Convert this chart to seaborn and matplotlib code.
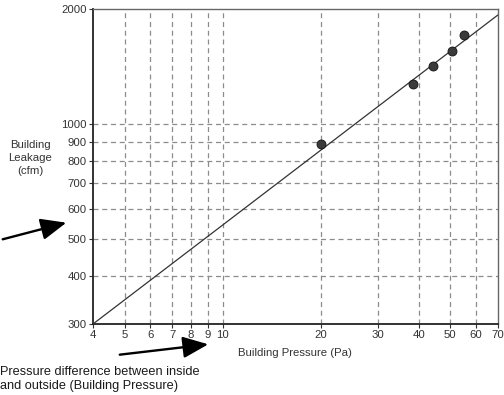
import matplotlib
matplotlib.use("Agg")
import matplotlib.pyplot as plt
from matplotlib.patches import FancyArrowPatch
from matplotlib.ticker import FixedLocator, FixedFormatter, NullLocator
import seaborn as sns
import pandas as pd

# Measured building leakage at several test pressures
pressure_pa = [20, 38.3, 44.3, 50.5, 55.2]
leakage_cfm = [887, 1273, 1416, 1556, 1713]

# Fitted power-law leakage line (endpoints on the log-log axes)
fit_pressure = [4, 70]
fit_leakage = [300, 1930]

x_ticks = [4, 5, 6, 7, 8, 9, 10, 20, 30, 40, 50, 60, 70]
y_ticks = [300, 400, 500, 600, 700, 800, 900, 1000, 2000]

sns.set_style("white")
plt.rcParams["font.family"] = ["Liberation Sans", "DejaVu Sans"]

fig = plt.figure(figsize=(5.04, 3.95), dpi=100)
ax = fig.add_axes([93 / 504, 1 - 324 / 395, 405 / 504, 315 / 395])

ax.set_xscale("log")
ax.set_yscale("log")
ax.set_xlim(4, 70)
ax.set_ylim(300, 2000)

pts = pd.DataFrame({"p": pressure_pa, "q": leakage_cfm})
fit = pd.DataFrame({"p": fit_pressure, "q": fit_leakage})

sns.lineplot(data=fit, x="p", y="q", ax=ax, color="#333333", linewidth=0.9, zorder=3)
sns.scatterplot(data=pts, x="p", y="q", ax=ax, s=42, color="#3a3a3a",
                edgecolor="#111111", linewidth=0.6, zorder=4)

ax.xaxis.set_major_locator(FixedLocator(x_ticks))
ax.xaxis.set_major_formatter(FixedFormatter([str(v) for v in x_ticks]))
ax.xaxis.set_minor_locator(NullLocator())
ax.yaxis.set_major_locator(FixedLocator(y_ticks))
ax.yaxis.set_major_formatter(FixedFormatter([str(v) for v in y_ticks]))
ax.yaxis.set_minor_locator(NullLocator())

# Dashed grid at inner ticks
for v in x_ticks[1:-1]:
    ax.axvline(v, color="#8c8c8c", linestyle=(0, (4, 3)), linewidth=0.9, zorder=1)
for v in y_ticks[1:-1]:
    ax.axhline(v, color="#8c8c8c", linestyle=(0, (4, 3)), linewidth=0.9, zorder=1)

ax.tick_params(axis="both", which="major", direction="out", length=3, width=0.8,
               color="#333333", labelsize=8.2, labelcolor="#333333", pad=1.5,
               left=True, bottom=True)

for side in ("left", "bottom"):
    ax.spines[side].set_color("#222222")
    ax.spines[side].set_linewidth(1.3)
for side in ("top", "right"):
    ax.spines[side].set_color("#666666")
    ax.spines[side].set_linewidth(1.0)

ax.set_xlabel("")
ax.set_ylabel("")

fig.text(30 / 504, 1 - 158 / 395, "Building\nLeakage\n(cfm)", ha="center", va="center",
         fontsize=8.2, color="#333333", linespacing=1.35)
fig.text(295 / 504, 1 - 353 / 395, "Building Pressure (Pa)", ha="center", va="center",
         fontsize=8.2, color="#333333")

fig.text(0.5 / 504, 1 - 379 / 395, "Pressure difference between inside\nand outside (Building Pressure)",
         ha="left", va="center", fontsize=9.2, color="#1a1a1a", linespacing=1.22)

arrowstyle = "-|>,head_length=1.3,head_width=0.55"
fig.add_artist(FancyArrowPatch(
    (0 / 504, 1 - 240 / 395), (69 / 504, 1 - 222 / 395), transform=fig.transFigure,
    arrowstyle=arrowstyle, color="black", lw=1.7, mutation_scale=12))
fig.add_artist(FancyArrowPatch(
    (117 / 504, 1 - 355 / 395), (211 / 504, 1 - 344 / 395), transform=fig.transFigure,
    arrowstyle=arrowstyle, color="black", lw=1.7, mutation_scale=12))

fig.savefig("out.png", dpi=100)
